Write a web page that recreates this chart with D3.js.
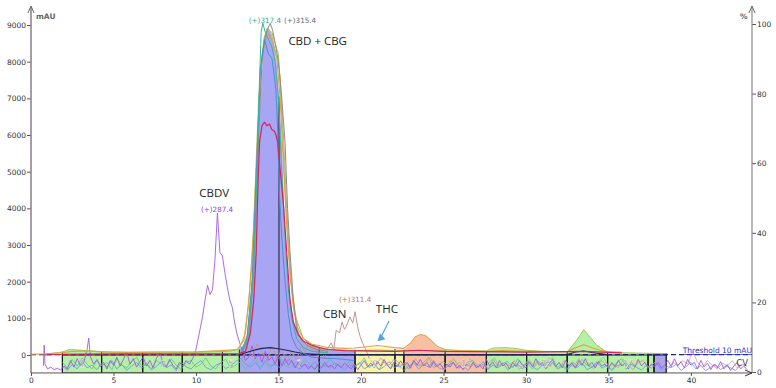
<!DOCTYPE html>
<html>
<head>
<script src="https://cdn.jsdelivr.net/npm/d3@7"></script>
<style>
body { margin: 0; background: #fff; }
text { font-family: "DejaVu Sans", sans-serif; }
.tick text { font-size: 7.5px; fill: #333; }
.big { font-family: "Open Sans", sans-serif; font-size: 11.5px; fill: #222; }
.trace { fill: none; stroke-width: 1; stroke-linejoin: round; }
</style>
</head>
<body>
<div id="chart"></div>
<script>

var w = 776, h = 388;

// fractions (min)
var fracStart = [1.9, 4.28, 6.77, 9.17, 11.6, 12.63, 15.03, 17.47, 19.64, 22.06, 22.6, 25.1, 27.6, 30.04, 32.5, 34.95, 37.4, 37.76];
var fracEnd   = [4.28, 6.77, 9.17, 11.6, 12.63, 15.03, 17.47, 19.64, 22.06, 22.6, 25.1, 27.6, 30.04, 32.5, 34.95, 37.4, 37.76, 38.5];
var fracGroup = ["g","g","g","g","g","b","b","b","y","y","s","s","g","g","g","g","g","b"];
var fracLabel = ["1","","3","","5","","7","","9","","","13","","15","","17","",""];
var groupColor = {g: "#b5f0a6", b: "#a8a6f4", y: "#f8f3a6", s: "#f8c0a2"};

var yTicks = [0, 1000, 2000, 3000, 4000, 5000, 6000, 7000, 8000, 9000];
var pctTicks = [0, 20, 40, 60, 80, 100];
var xTicks = [0, 5, 10, 15, 20, 25, 30, 35, 40];

// trace used for the fraction fill
var fillTop = [[1.9,90],[2.3,150],[3,140],[4,110],[5,90],[6,80],[8,90],[10,90],[11.5,120],[12.63,150],[12.9,300],[13.1,600],[13.3,1500],[13.5,3000],[13.6,4200],[13.9,6900],[14.1,8500],[14.3,8900],[14.5,8800],[14.7,8500],[14.9,7900],[15.1,6600],[15.2,5800],[15.3,4600],[15.4,3400],[15.6,2000],[15.8,1200],[16.0,800],[16.3,450],[16.7,300],[17.0,250],[17.5,200],[18,160],[19,130],[19.64,140],[20.2,170],[20.8,200],[21.3,190],[22.06,160],[22.6,140],[23.0,300],[23.3,480],[23.65,550],[23.9,520],[24.2,400],[24.6,220],[25.1,140],[25.6,115],[26.5,105],[27.6,100],[28.0,180],[28.8,190],[29.5,160],[30.04,120],[31,100],[32.5,90],[32.8,250],[33.1,420],[33.5,690],[33.9,480],[34.3,250],[34.95,70],[36,60],[37.4,50],[38.5,50]];

var teal = [[12.8,50],[13.2,600],[13.5,2500],[13.7,5000],[13.85,7500],[13.95,8800],[14.05,9050],[14.2,8800],[14.4,8600],[14.6,8400],[14.8,8000],[15.0,7000],[15.2,5000],[15.4,3200],[15.6,1800],[15.8,1000],[16.1,450],[16.5,200],[17,100],[18,60]];
var gray = [[12.8,50],[13.2,500],[13.5,2200],[13.8,6000],[14.0,8000],[14.2,8700],[14.35,8900],[14.5,9050],[14.65,8850],[14.8,8500],[15.0,8000],[15.2,7000],[15.4,5800],[15.55,4000],[15.7,2800],[15.9,1500],[16.1,700],[16.4,400],[16.8,250],[17.3,150],[18,100]];
var khaki = [[12.7,60],[13.1,400],[13.4,1800],[13.7,5200],[13.95,7800],[14.15,8600],[14.4,8900],[14.6,8700],[14.8,8300],[15.0,7900],[15.1,7600],[15.3,6000],[15.5,4000],[15.8,1800],[16.2,600],[16.6,300],[17.2,180],[18,120]];
var orange = [[0,20],[0.8,30],[1.9,60],[2.5,100],[3.5,110],[4.3,80],[6,70],[8,80],[10,90],[11.5,120],[12.5,150],[12.9,400],[13.2,1400],[13.5,3500],[13.8,6500],[14.0,8200],[14.3,8800],[14.6,8600],[14.9,8100],[15.1,7000],[15.3,5200],[15.5,3500],[15.7,2200],[15.9,1300],[16.2,700],[16.5,450],[17,300],[17.5,250],[18,200],[19,180],[19.6,190],[20.5,230],[21,260],[21.5,230],[22,200],[22.6,180],[23,320],[23.3,500],[23.6,560],[23.9,530],[24.2,420],[24.6,240],[25.1,150],[26,120],[27,110],[27.6,100],[28.5,120],[30,100],[32.5,90],[33,200],[33.5,280],[34,200],[34.5,130],[35,90],[35.8,80]];
var green = [[0.8,20],[1.9,80],[2.3,150],[3,130],[4,100],[5,80],[8,80],[10,70],[12,100],[12.6,150],[13,600],[13.4,2500],[13.8,7000],[14.1,8600],[14.3,8900],[14.6,8800],[15,8200],[15.2,6500],[15.4,4500],[15.7,2300],[16,1100],[16.5,450],[17,250],[18,150],[19.6,120],[21,130],[22.6,110],[24,120],[25,110],[27.6,110],[28,190],[28.8,200],[29.5,170],[30,130],[31,100],[32.5,90],[32.8,250],[33.1,420],[33.5,690],[33.9,480],[34.3,260],[34.9,80],[36,60],[37,50],[38.5,40]];
var red = [[0.8,0],[1.9,20],[5,30],[10,30],[12.6,40],[13.0,100],[13.3,600],[13.5,1500],[13.65,2800],[13.75,4500],[13.85,5800],[14.0,6250],[14.15,6350],[14.3,6250],[14.45,6300],[14.6,6150],[14.75,6100],[14.85,6000],[14.95,5800],[15.05,5300],[15.3,4100],[15.5,2800],[15.7,1500],[15.9,900],[16.2,550],[16.5,380],[17,270],[17.5,200],[18,150],[19,120],[20,110],[22,100],[23.5,130],[25,100],[30,80],[33.5,100],[35.8,60]];
var steel = [[12.7,30],[13.1,500],[13.4,2000],[13.7,5500],[13.9,7800],[14.15,8600],[14.4,8200],[14.6,8100],[14.75,7600],[14.85,7200],[14.95,6100],[15.05,4500],[15.2,3200],[15.4,2000],[15.6,1100],[15.8,500],[16.1,200],[16.5,50],[17,-60],[17.5,-80],[18.5,-100],[19.6,-150]];
var navy = [[12.6,0],[13.0,60],[13.5,130],[14.0,180],[14.5,200],[15.0,170],[15.5,130],[16.0,80],[16.5,40],[17.5,10],[32.5,10],[33.0,80],[33.5,110],[34.0,70],[34.9,10]];

var purple = [[0.75,-300],[0.8,270],[0.85,-250],[1.0,-380],[1.2,-330],[1.4,-400],[1.6,-360],[1.8,-410],[2.0,-300],[2.2,-380],[2.4,-150],[2.6,-330],[2.8,-100],[3.0,-280],[3.2,-200],[3.4,150],[3.5,460],[3.6,-50],[3.8,-250],[4.0,-120],[4.2,-320],[4.4,-200],[4.6,-380],[4.8,-150],[5.0,-280],[5.2,-60],[5.4,-300],[5.6,-120],[5.8,80],[6.0,-250],[6.2,-100],[6.4,-330],[6.6,-180],[6.8,-60],[7.0,-300],[7.2,-150],[7.4,-350],[7.6,-90],[7.8,60],[8.0,-200],[8.2,-320],[8.4,-120],[8.6,-280],[8.8,-380],[9.0,-200],[9.2,-300],[9.4,-150],[9.6,-250],[9.8,-100],[10.0,150],[10.2,600],[10.4,1050],[10.55,1500],[10.7,1900],[10.85,1650],[11.0,1780],[11.15,2600],[11.3,3870],[11.45,2800],[11.6,2700],[11.75,2250],[11.9,1850],[12.05,1500],[12.2,1300],[12.35,870],[12.5,550],[12.65,330],[12.8,100],[13.0,-150],[13.2,-50],[13.4,250],[13.6,-100],[13.8,50],[14.0,-200],[14.2,100],[14.4,-150],[14.6,-50],[14.8,-250],[15.0,0],[15.2,-300],[15.4,-100],[15.6,-280],[15.8,-150],[16.0,-350],[16.2,-200],[16.4,-320],[16.6,-250],[16.8,-380],[17.0,-300],[17.2,-400],[17.4,-260],[17.6,-350],[17.8,-200],[18.0,-320],[18.2,-280],[18.4,-380],[18.6,-250],[18.8,-350],[19.0,-220],[19.2,-300],[19.4,-380],[19.6,-250],[19.8,-400],[20.0,-280],[20.2,-150],[20.4,-320],[20.6,-220],[20.8,-350],[21.0,-180],[21.2,-300],[21.4,-120],[21.6,-280],[21.8,-380],[22.0,-200],[22.2,-320],[22.4,-160],[22.6,-300],[22.8,-200],[23.0,-350],[23.2,-150],[23.4,-280],[23.6,-120],[23.8,-300],[24.0,-200],[24.2,-350],[24.4,-180],[24.6,-320],[24.8,-240],[25.0,-380],[25.2,-250],[25.4,-330],[25.6,-200],[25.8,-360],[26.0,-280],[26.2,-400],[26.4,-250],[26.6,-330],[26.8,-200],[27.0,-350],[27.2,-280],[27.4,-380],[27.6,-120],[27.8,-300],[28.0,-200],[28.2,-350],[28.4,-150],[28.6,-300],[28.8,-220],[29.0,-380],[29.2,-200],[29.4,-320],[29.6,-150],[29.8,-280],[30.0,-350],[30.2,-180],[30.4,-320],[30.6,-100],[30.8,-280],[31.0,-200],[31.2,-380],[31.4,-250],[31.6,-120],[31.8,-320],[32.0,-200],[32.2,-350],[32.4,-150],[32.6,-300],[32.8,-220],[33.0,-360],[33.2,-150],[33.4,-280],[33.6,-100],[33.8,-300],[34.0,-200],[34.2,-350],[34.4,-180],[34.6,-300],[34.8,-250],[35.0,-380],[35.2,-200],[35.4,-320],[35.6,-150],[35.8,-300],[36.0,-220],[36.2,-380],[36.4,-250],[36.6,-330],[36.8,-120],[37.0,-300],[37.2,-200],[37.4,-360],[37.6,-250],[37.8,-320],[38.0,-200],[38.2,-350],[38.4,-280],[38.6,-150],[38.8,-320],[39.0,-100],[39.2,-300],[39.4,-180],[39.6,-350],[39.8,-120],[40.0,-280],[40.2,-200],[40.4,-380],[40.6,-150],[40.8,-320],[41.0,-220],[41.2,-400],[41.4,-250],[41.6,-350],[41.8,-180],[42.0,-380],[42.2,-260],[42.4,-420],[42.6,-300],[42.8,-200],[43.0,-380],[43.2,-300],[43.4,-400]];

var rosyPeak = [[12.8,-100],[13.1,200],[13.4,-50],[13.7,300],[14.0,100],[14.3,-150],[14.6,250],[14.9,-100],[15.2,150],[15.5,-200],[15.8,100],[16.1,-150],[16.4,300],[16.6,50],[16.8,350],[17.0,100],[17.2,250],[17.4,-50],[17.6,150],[17.8,-100],[18.0,200],[18.2,330],[18.35,150],[18.5,680],[18.7,600],[18.85,900],[19.0,700],[19.1,770],[19.33,1040],[19.5,870],[19.64,1180],[19.8,770],[19.95,500],[20.1,320],[20.3,140],[20.5,-100]];
// noisy traces, start time and step in minutes
var rosyNoiseStart = 20.6;
var rosyNoise = [-150,-300,-80,-250,-350,-120,-280,-200,-380,-100,-300,-220,-60,-320,-250,-400,-150,-280,-200,-350,-100,-300,-250,-380,-180,-80,-330,-220,-300,-150,-400,-250,-120,-320,-200,-350,-80,-280,-380,-150,-250,-330,-100,-300,-220,-380,-180,-60,-300,-250,-350,-120,-280,-400,-200,-150,-330,-250,-100,-300,-380,-200,-280,-150,-250,100,-200,-330,-150,-280,-380,-220,-300,-150,-350,-250,-300];
var blueNoiseStart = 1.9;
var blueNoise = [-300,-420,-250,-380,-180,-350,-280,-400,-220,-330,-150,-380,-260,-420,-300,-200,-360,-240,-410,-310,-180,-350,-270,-430,-200,-320,-380,-250,-150,-340,-400,-280,-220,-370,-300,-180,-90,-250,-330,-200,-380,-150,-300,-260,-350,-200,-120,-300,-380,-250,-330,-180,-400,-280,-350,-220,-300,-420,-260,-340,-200,-380,-300,-250,-400,-320,-180,-350,-280,-420,-300,-220,-380,-260,-330,-150,-350,-400,-280,-200,-360,-300,-420,-250,-330,-180,-380,-280,-350,-220,-400,-300,-250,-380,-160,-320,-400,-270,-350,-200,-380,-300,-420,-260,-340,-220,-400,-330,-180,-360,-280,-420,-300,-250,-380,-200,-340,-410,-280,-360,-220,-400,-300,-350,-250,-420,-320,-200,-380,-280,-430,-330,-260,-400,-300,-350,-420,-280];
var greenNoiseStart = 1.9;
var greenNoise = [-200,-350,-120,-300,-80,-250,-380,-150,-300,-200,-400,-100,-280,-350,-180,-60,-300,-220,-380,-150,-250,-320,-100,-280,-400,-200,-150,-330,-250,-80,-300,-380,-200,-120,-350,-280,-180,-400,-250,-100,-320,-220,-380,-150,-60,-280,-350,-200,-300,-120,-250,-380,-180,-330,-100,-280,-200,-360,-150,-300,-250,-80,-350,-220,-400,-180,-280,-120,-330,-250,-380,-150,-300,-200,-60,-350,-250,-180,-320,-100,-280,-380,-200,-150,-330,-250,-400,-120,-300,-220,-180,-350,-100,-280,-250,-380,-150,-300,-200,-80,-330,-250,-380,-180,-300,-120,-280,-350,-220,-150,-300,-400,-200,-100,-330];
var noiseStep = 0.3;

var threshold = 10;

var x = d3.scaleLinear().domain([0, 43.7]).range([31, 752]);
var y = d3.scaleLinear().domain([0, 9000]).range([355, 25]);
var yPct = d3.scaleLinear().domain([0, 100]).range([372, 24]);
var yBottom = y(-490);

var svg = d3.select("#chart").append("svg")
    .attr("width", w)
    .attr("height", h);

svg.append("clipPath").attr("id", "plot")
  .append("rect").attr("x", x(0)).attr("y", 5).attr("width", x(43.7) - x(0)).attr("height", yBottom - 5);

var line = d3.line()
    .x(function(d) { return x(d[0]); })
    .y(function(d) { return y(d[1]); });

var area = d3.area()
    .x(function(d) { return x(d[0]); })
    .y0(y(0))
    .y1(function(d) { return y(d[1]); });

function toPairs(start, vals) {
  return vals.map(function(v, i) { return [start + i * noiseStep, v]; });
}

function valueAt(series, t) {
  for (var i = 1; i < series.length; i++) {
    if (series[i][0] >= t) {
      var a = series[i - 1], b = series[i];
      return a[1] + (b[1] - a[1]) * (t - a[0]) / (b[0] - a[0]);
    }
  }
  return series[series.length - 1][1];
}

var fractions = fracStart.map(function(s, i) {
  return {i: i, t0: s, t1: fracEnd[i], color: groupColor[fracGroup[i]], label: fracLabel[i]};
});

var g = svg.append("g").attr("clip-path", "url(#plot)");

// fraction boxes and fills
g.selectAll("rect.box").data(fractions).enter().append("rect")
    .attr("class", "box")
    .attr("x", function(d) { return x(d.t0); })
    .attr("y", y(0))
    .attr("width", function(d) { return x(d.t1) - x(d.t0); })
    .attr("height", yBottom - y(0))
    .style("fill", function(d) { return d.color; });

fractions.forEach(function(d) {
  svg.append("clipPath").attr("id", "fr" + d.i)
    .append("rect")
      .attr("x", x(d.t0)).attr("y", 0)
      .attr("width", x(d.t1) - x(d.t0)).attr("height", y(0));
  g.append("path")
      .datum(fillTop)
      .attr("clip-path", "url(#fr" + d.i + ")")
      .attr("d", area)
      .style("fill", d.color);
});

// box outlines and fraction boundaries
g.selectAll("rect.outline").data(fractions).enter().append("rect")
    .attr("x", function(d) { return x(d.t0); })
    .attr("y", y(0))
    .attr("width", function(d) { return x(d.t1) - x(d.t0); })
    .attr("height", yBottom - y(0))
    .style("fill", "none")
    .style("stroke", "#1a1a1a")
    .style("stroke-width", 1);

var bounds = fracStart.concat([fracEnd[fracEnd.length - 1]]);
g.selectAll("line.bound").data(bounds).enter().append("line")
    .attr("x1", function(d) { return x(d); })
    .attr("x2", function(d) { return x(d); })
    .attr("y1", yBottom)
    .attr("y2", function(d) { return y(Math.max(0, valueAt(fillTop, d))); })
    .style("stroke", "#1a1a1a")
    .style("stroke-width", 1);

// threshold
g.append("line")
    .attr("x1", x(0)).attr("x2", x(43.7))
    .attr("y1", y(threshold)).attr("y2", y(threshold))
    .style("stroke", "#22227a")
    .style("stroke-width", 1.3)
    .style("stroke-dasharray", "5,3");

// traces
var traces = [
  {data: toPairs(greenNoiseStart, greenNoise), color: "#5cc494", width: 0.8},
  {data: toPairs(blueNoiseStart, blueNoise), color: "#6a94e4", width: 0.8},
  {data: toPairs(rosyNoiseStart, rosyNoise), color: "#c8a0a0", width: 0.8},
  {data: rosyPeak, color: "#c49494", width: 1},
  {data: purple, color: "#a05ad8", width: 0.9},
  {data: navy, color: "#1c2458", width: 1.1},
  {data: green, color: "#a4c654", width: 1},
  {data: orange, color: "#e0a040", width: 1.1},
  {data: khaki, color: "#bdb27a", width: 1},
  {data: gray, color: "#8c8c8c", width: 1},
  {data: steel, color: "#4a90cf", width: 1},
  {data: teal, color: "#36b6a2", width: 1},
  {data: red, color: "#d4245c", width: 1.2}
];

g.selectAll("path.trace").data(traces).enter().append("path")
    .attr("class", "trace")
    .attr("d", function(d) { return line(d.data); })
    .style("stroke", function(d) { return d.color; })
    .style("stroke-width", function(d) { return d.width; });

// fraction labels
g.selectAll("text.frac").data(fractions.filter(function(d) { return d.label; })).enter().append("text")
    .attr("x", function(d) { return x((d.t0 + d.t1) / 2); })
    .attr("y", (y(0) + yBottom) / 2 + 3)
    .attr("text-anchor", "middle")
    .style("font-size", "8px")
    .style("fill", "#222")
    .style("stroke", "#fff")
    .style("stroke-width", 0.4)
    .text(function(d) { return d.label; });

// axes
var axisColor = "#8a7c8a";
var left = svg.append("g").attr("transform", "translate(" + x(0) + ",0)")
    .call(d3.axisLeft(y).tickValues(yTicks).tickSize(4).tickPadding(1).tickFormat(d3.format("d")));
left.select(".domain").remove();
left.selectAll(".tick line").style("stroke", "#555");

var right = svg.append("g").attr("transform", "translate(" + x(43.7) + ",0)")
    .call(d3.axisRight(yPct).tickValues(pctTicks).tickSize(4).tickPadding(1));
right.select(".domain").remove();
right.selectAll(".tick line").style("stroke", "#555");

var bottom = svg.append("g").attr("transform", "translate(0," + yBottom + ")")
    .call(d3.axisBottom(x).tickValues(xTicks).tickSize(3).tickPadding(2));
bottom.select(".domain").remove();
bottom.selectAll(".tick line").style("stroke", "#555");

svg.append("line").attr("x1", x(0)).attr("x2", x(0)).attr("y1", yBottom).attr("y2", 7)
    .style("stroke", axisColor).style("stroke-width", 1.5);
svg.append("path").attr("d", "M" + (x(0) - 3) + ",13L" + x(0) + ",6L" + (x(0) + 3) + ",13")
    .style("fill", "none").style("stroke", "#666");
svg.append("line").attr("x1", x(43.7)).attr("x2", x(43.7)).attr("y1", yBottom).attr("y2", 7)
    .style("stroke", "#8a8a8a").style("stroke-width", 1.2);
svg.append("path").attr("d", "M" + (x(43.7) - 3) + ",13L" + x(43.7) + ",6L" + (x(43.7) + 3) + ",13")
    .style("fill", "none").style("stroke", "#666");
svg.append("line").attr("x1", x(0)).attr("x2", x(43.7)).attr("y1", yBottom).attr("y2", yBottom)
    .style("stroke", "#555").style("stroke-width", 1);
svg.append("path").attr("d", "M" + (x(43.7) - 7) + "," + (yBottom - 3) + "L" + x(43.7) + "," + yBottom + "L" + (x(43.7) - 7) + "," + (yBottom + 3))
    .style("fill", "none").style("stroke", "#333");

svg.append("text").attr("x", x(0) + 5).attr("y", 19).style("font-size", "7.5px").style("font-weight", "bold").style("fill", "#666").text("mAU");
svg.append("text").attr("x", x(43.7) - 12).attr("y", 19).style("font-size", "7.5px").style("font-weight", "bold").style("fill", "#666").text("%");

// annotations: text, time, mAU, colour, size
var notes = [
  ["(+)317.4", 13.2, 9050, "#2ea898", 7.2],
  ["(+)315.4", 15.33, 9050, "#666", 7.2],
  ["(+)287.4", 10.3, 3900, "#9040d0", 7.2],
  ["(+)311.4", 18.67, 1450, "#c07a44", 7.2],
  ["Threshold 10 mAU", 39.5, 55, "#3030c8", 7.5],
  ["CV", 42.75, -290, "#444", 8.5]
];
svg.selectAll("text.note").data(notes).enter().append("text")
    .attr("x", function(d) { return x(d[1]); })
    .attr("y", function(d) { return y(d[2]); })
    .style("font-size", function(d) { return d[4] + "px"; })
    .style("fill", function(d) { return d[3]; })
    .style("text-decoration", function(d) { return d[0].indexOf("Threshold") === 0 ? "underline" : null; })
    .text(function(d) { return d[0]; });

var names = [
  ["CBD + CBG", 15.6, 8450],
  ["CBDV", 10.2, 4310],
  ["CBN", 17.7, 1010],
  ["THC", 20.9, 1150]
];
svg.selectAll("text.name").data(names).enter().append("text")
    .attr("class", "big")
    .attr("x", function(d) { return x(d[1]); })
    .attr("y", function(d) { return y(d[2]); })
    .text(function(d) { return d[0]; });

// THC arrow
var a0 = [x(21.7), y(930)], a1 = [x(21.12), y(400)];
svg.append("line").attr("x1", a0[0]).attr("y1", a0[1]).attr("x2", a1[0]).attr("y2", a1[1])
    .style("stroke", "#58a4dc").style("stroke-width", 1.2);
svg.append("path")
    .attr("d", "M" + (a1[0] - 2) + "," + (a1[1] + 1) + "L" + (a1[0] + 6) + "," + (a1[1] - 1) + "L" + (a1[0] + 0.5) + "," + (a1[1] - 7) + "Z")
    .style("fill", "#58a4dc");

</script>
</body>
</html>
